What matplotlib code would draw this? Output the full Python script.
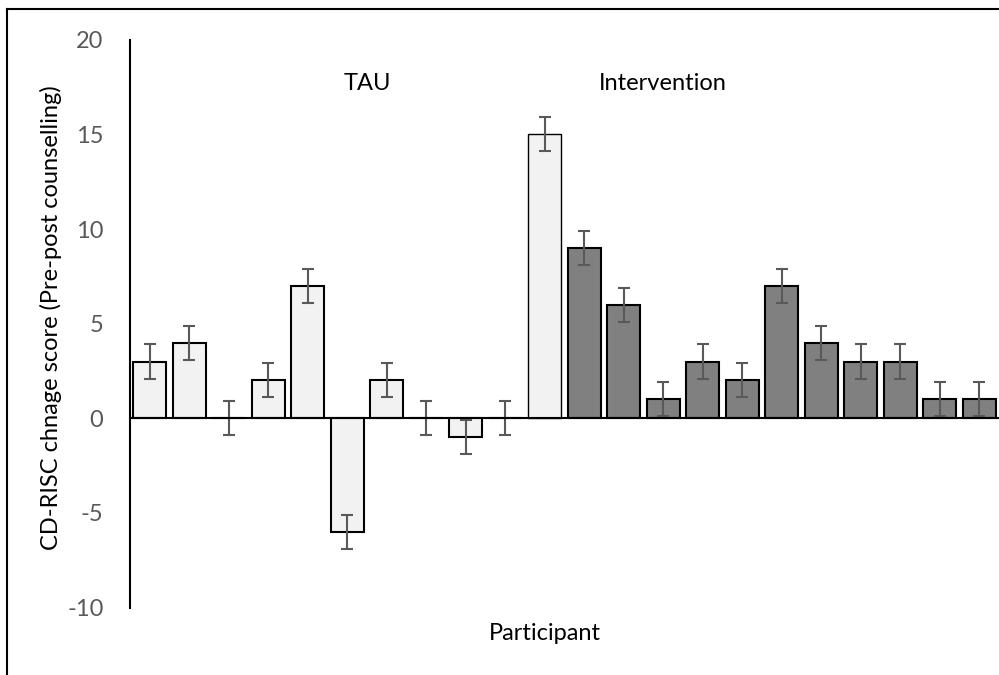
import matplotlib
matplotlib.use("Agg")
import matplotlib.pyplot as plt
from matplotlib.lines import Line2D

plt.rcParams['font.family'] = ['Lato', 'DejaVu Sans']
plt.rcParams['axes.unicode_minus'] = False

# Data
scores = [3, 4, 0, 2, 7, -6, 2, 0, -1, 0, 15,
          9, 6, 1, 3, 2, 7, 4, 3, 3, 1, 1]
errors = [0.9] * len(scores)
groups = ['TAU'] * 11 + ['Intervention'] * 11
group_colors = {'TAU': '#F2F2F2', 'Intervention': '#808080'}
# the 11th bar is light but drawn with a thinner outline in the original
edge_widths = [1.5] * 10 + [1.0] + [1.5] * 11

fig = plt.figure(figsize=(9.99, 6.75), dpi=100)
ax = fig.add_axes([0.130, 0.100, 0.870, 0.841])

x = list(range(len(scores)))
ax.bar(x, scores, width=0.84, color=[group_colors[g] for g in groups],
       edgecolor='black', linewidth=edge_widths, zorder=2)
ax.errorbar(x, scores, yerr=errors, fmt='none', ecolor='#595959',
            elinewidth=1.5, capsize=4.5, capthick=1.5, zorder=3)

ax.axhline(0, color='black', linewidth=1.5, zorder=4)

ax.set_xlim(-0.5, 21.5)
ax.set_ylim(-10, 20)
ax.set_yticks([-10, -5, 0, 5, 10, 15, 20])
ax.set_xticks([])
ax.tick_params(axis='y', length=0, labelsize=17, labelcolor='#595959', pad=19)

for s in ['top', 'right', 'bottom']:
    ax.spines[s].set_visible(False)
ax.spines['left'].set_linewidth(1.5)

ax.set_ylabel('CD-RISC chnage score (Pre-post counselling)', fontsize=17)
ax.yaxis.set_label_coords(-0.078, 0.51)
ax.set_xlabel('Participant', fontsize=17)
ax.xaxis.set_label_coords(0.4776, -0.027)

ax.text(5.5, 17.7, 'TAU', fontsize=17, ha='center', va='center')
ax.text(13.0, 17.7, 'Intervention', fontsize=17, ha='center', va='center')

# outer frame of the original figure
fig.add_artist(Line2D([0.007, 0.007], [0.0, 0.987], color='black', lw=1.5,
                      transform=fig.transFigure))
fig.add_artist(Line2D([0.007, 1.0], [0.987, 0.987], color='black', lw=1.5,
                      transform=fig.transFigure))

fig.savefig('out.png', dpi=100)
